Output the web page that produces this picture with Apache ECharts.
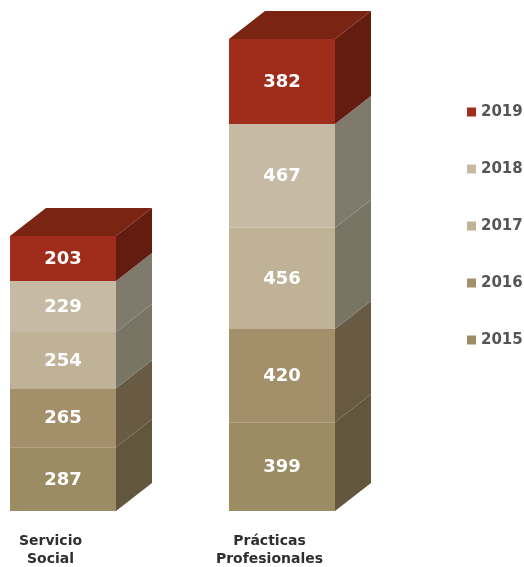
<!DOCTYPE html>
<html><head><meta charset="utf-8">
<style>html,body{margin:0;padding:0;background:#fff}#c{width:524px;height:567px}</style>
<script src="https://cdn.jsdelivr.net/npm/echarts@6/dist/echarts.min.js"></script>
</head><body><div id="c"></div>
<script>
const categories = ['Servicio\nSocial', 'Prácticas\nProfesionales'];
const years = ['2015', '2016', '2017', '2018', '2019'];
const v2015 = [287, 399];
const v2016 = [265, 420];
const v2017 = [254, 456];
const v2018 = [229, 467];
const v2019 = [203, 382];
const seriesValues = [v2015, v2016, v2017, v2018, v2019];
const frontColors = ['#9c8c63', '#a3906b', '#bfb297', '#c6baa5', '#a02c1c'];
const sideColors = ['#62573c', '#685a43', '#797565', '#7f7a6b', '#651c10'];
const topColor = '#7a2414';
const depthX = 36, depthY = 28, barRatio = 106 / 219;
const font = '"DejaVu Sans", sans-serif';

function renderSegment(yearIndex) {
  return function (params, api) {
    const cat = api.value(0), val = api.value(1);
    let base = 0;
    for (let i = 0; i < yearIndex; i++) base += seriesValues[i][cat];
    const p0 = api.coord([cat, base]), p1 = api.coord([cat, base + val]);
    const w = api.size([1, 0])[0] * barRatio;
    const l = p0[0] - w / 2, r = p0[0] + w / 2, yb = p0[1], yt = p1[1];
    const children = [
      { type: 'polygon', shape: { points: [[r, yb], [r + depthX, yb - depthY], [r + depthX, yt - depthY], [r, yt]] },
        style: { fill: sideColors[yearIndex] } },
      { type: 'rect', shape: { x: l, y: yt, width: w, height: yb - yt },
        style: { fill: frontColors[yearIndex] } }
    ];
    if (yearIndex === years.length - 1) {
      children.push({ type: 'polygon', shape: { points: [[l, yt], [l + depthX, yt - depthY], [r + depthX, yt - depthY], [r, yt]] },
        style: { fill: topColor } });
    }
    children.push({ type: 'text', x: (l + r) / 2, y: (yb + yt) / 2 + 1,
      style: { text: String(val), fill: '#fff', font: '700 18px ' + font, align: 'center', verticalAlign: 'middle' } });
    return { type: 'group', children };
  };
}

const chart = echarts.init(document.getElementById('c'), null, { renderer: 'canvas' });
chart.setOption({
  animation: false,
  color: frontColors,
  grid: { left: -46.5, width: 438, top: 11, height: 500, outerBoundsMode: 'none' },
  xAxis: { type: 'category', data: categories, axisLine: { show: false }, axisTick: { show: false },
    axisLabel: { interval: 0, margin: 21, color: '#2f2f2f', fontFamily: font, fontWeight: 700, fontSize: 14, lineHeight: 18, padding: [0, 25, 0, 0] } },
  yAxis: { type: 'value', min: 0, max: 2250, show: false },
  legend: { orient: 'vertical', left: 462, top: 97, itemWidth: 9, itemHeight: 9, itemGap: 37, icon: 'rect',
    data: years.slice().reverse(),
    textStyle: { color: '#555', fontFamily: font, fontWeight: 700, fontSize: 15, lineHeight: 20, padding: [0, 0, 0, 0] } },
  series: years.map((y, i) => ({
    name: y, type: 'custom', clip: false,
    data: seriesValues[i].map((v, c) => [c, v]),
    encode: { x: 0, y: 1 },
    renderItem: renderSegment(i)
  }))
});
</script></body></html>
